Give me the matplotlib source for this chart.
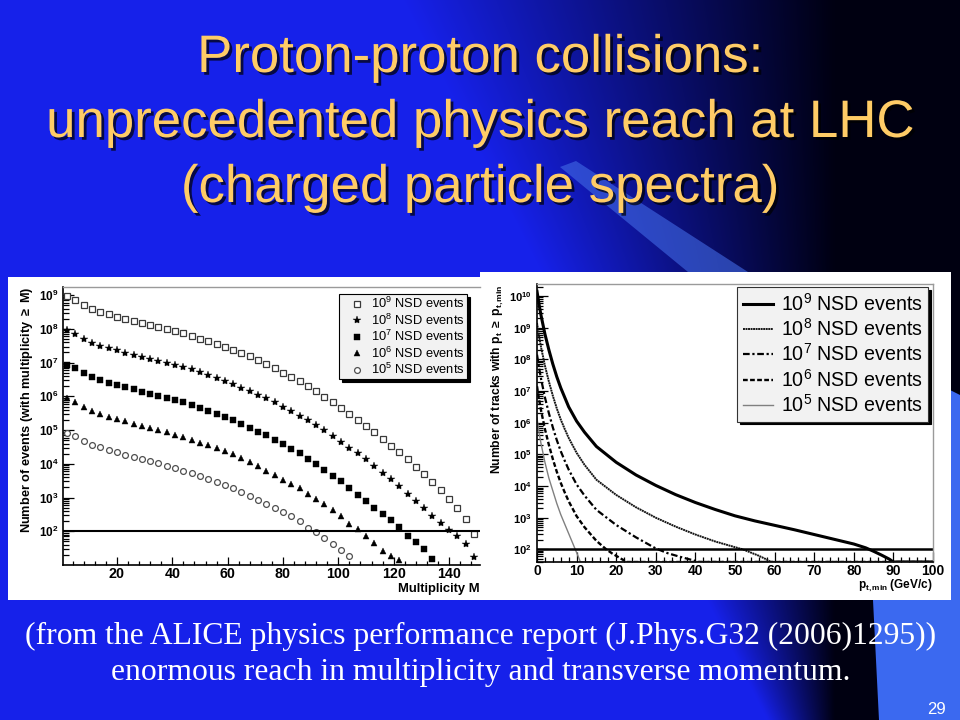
import numpy as np
import matplotlib
matplotlib.use('Agg')
import matplotlib.pyplot as plt
import matplotlib.patheffects as pe
from matplotlib.patches import Rectangle, Polygon
from matplotlib.ticker import MultipleLocator, LogLocator, NullFormatter

plt.rcParams['font.family'] = ['Liberation Sans', 'DejaVu Sans']
plt.rcParams['mathtext.fontset'] = 'custom'
plt.rcParams['mathtext.rm'] = 'Liberation Sans'
plt.rcParams['mathtext.it'] = 'Liberation Sans:italic'
plt.rcParams['mathtext.bf'] = 'Liberation Sans:bold'

W, H = 960, 720

# ---- left plot: number of events with multiplicity >= M (log10 values) ----
MULT = np.arange(2, 150, 3)   # bin centres of multiplicity M
EV_LABELS = ['$10^{9}$ NSD events', '$10^{8}$ NSD events', '$10^{7}$ NSD events',
             '$10^{6}$ NSD events', '$10^{5}$ NSD events']
lg_ev_1e9 = [8.97, 8.87, 8.72, 8.60, 8.50, 8.43, 8.36, 8.29, 8.23, 8.18,
             8.12, 8.06, 8.00, 7.94, 7.88, 7.79, 7.71, 7.63, 7.54, 7.47,
             7.37, 7.29, 7.19, 7.09, 6.95, 6.84, 6.70, 6.57, 6.45, 6.30,
             6.16, 5.99, 5.83, 5.66, 5.49, 5.31, 5.13, 4.94, 4.74, 4.54,
             4.34, 4.14, 3.92, 3.70, 3.47, 3.23, 2.95, 2.68, 2.37, 1.92]
lg_ev_1e8 = [7.96, 7.86, 7.71, 7.59, 7.50, 7.43, 7.37, 7.30, 7.24, 7.17,
             7.11, 7.05, 6.99, 6.92, 6.86, 6.80, 6.72, 6.63, 6.54, 6.46,
             6.36, 6.26, 6.16, 6.05, 5.94, 5.82, 5.68, 5.56, 5.43, 5.29,
             5.14, 4.99, 4.82, 4.65, 4.48, 4.31, 4.13, 3.94, 3.74, 3.54,
             3.34, 3.11, 2.91, 2.69, 2.46, 2.25, 2.04, 1.87, 1.62, 1.25]
lg_ev_1e7 = [6.94, 6.84, 6.70, 6.57, 6.48, 6.41, 6.34, 6.27, 6.21, 6.14,
             6.08, 6.02, 5.96, 5.89, 5.82, 5.75, 5.66, 5.57, 5.49, 5.39,
             5.29, 5.18, 5.07, 4.95, 4.84, 4.71, 4.58, 4.45, 4.31, 4.15,
             4.00, 3.82, 3.64, 3.48, 3.29, 3.09, 2.89, 2.70, 2.51, 2.33,
             2.14, 1.87, 1.67, 1.48, 1.18]
lg_ev_1e6 = [5.95, 5.83, 5.68, 5.57, 5.48, 5.40, 5.33, 5.26, 5.19, 5.13,
             5.07, 5.00, 4.93, 4.86, 4.79, 4.71, 4.63, 4.55, 4.47, 4.38,
             4.28, 4.17, 4.05, 3.93, 3.80, 3.68, 3.53, 3.41, 3.28, 3.11,
             2.95, 2.81, 2.63, 2.44, 2.22, 2.07, 1.85, 1.64, 1.41, 1.26,
             1.16]
lg_ev_1e5 = [4.92, 4.82, 4.69, 4.57, 4.49, 4.41, 4.34, 4.27, 4.21, 4.14,
             4.08, 4.01, 3.94, 3.87, 3.80, 3.72, 3.63, 3.55, 3.47, 3.38,
             3.28, 3.17, 3.06, 2.94, 2.81, 2.69, 2.56, 2.44, 2.31, 2.11,
             1.97, 1.79, 1.62, 1.43, 1.27]

# ---- right plot: number of tracks with pt >= pt,min (log10 values) ----
EMPTY = -np.inf   # empty bins, drawn on the bottom of the frame
pt_1e9 = [0, 0.5, 1, 1.5, 2, 3, 4, 5, 6, 7, 8, 10, 12, 15, 20, 25, 30, 35, 40,
          45, 50, 55, 60, 65, 70, 75, 80, 83, 85, 87, 89, 90, 100]
lg_tr_1e9 = [10.15, 9.75, 9.4, 9.1, 8.8, 8.3, 7.85, 7.45, 7.1, 6.8, 6.5, 6.05,
             5.7, 5.25, 4.75, 4.35, 4.02, 3.73, 3.48, 3.26, 3.06, 2.9, 2.76,
             2.62, 2.47, 2.32, 2.17, 2.05, 1.94, 1.82, 1.69, EMPTY, EMPTY]
pt_1e8 = [0, 0.5, 1, 1.5, 2, 3, 4, 5, 6, 7, 8, 10, 12, 15, 20, 25, 30, 35, 40,
          45, 50, 52, 54, 56, 58, 59, 100]
lg_tr_1e8 = [9.15, 8.75, 8.4, 8.1, 7.8, 7.3, 6.85, 6.45, 6.1, 5.8, 5.52, 5.05,
             4.67, 4.2, 3.72, 3.33, 3.0, 2.72, 2.47, 2.25, 2.07, 2.0, 1.9, 1.8,
             1.68, EMPTY, EMPTY]
pt_1e7 = [0, 0.5, 1, 1.5, 2, 3, 4, 5, 6, 7, 8, 10, 12, 15, 20, 25, 30, 33, 36,
          39, 40.5, 41, 100]
lg_tr_1e7 = [8.15, 7.75, 7.4, 7.1, 6.8, 6.3, 5.85, 5.45, 5.1, 4.8, 4.52, 4.05,
             3.7, 3.25, 2.77, 2.38, 2.03, 1.88, 1.77, 1.67, 1.62, EMPTY, EMPTY]
pt_1e6 = [0, 0.5, 1, 1.5, 2, 3, 4, 5, 6, 7, 8, 10, 12, 15, 17.5, 19, 20.5, 22,
          22.5, 100]
lg_tr_1e6 = [7.15, 6.75, 6.4, 6.1, 5.8, 5.3, 4.85, 4.45, 4.1, 3.8, 3.52, 3.05,
             2.7, 2.27, 2.0, 1.87, 1.76, 1.65, EMPTY, EMPTY]
pt_1e5 = [0, 0.5, 1, 1.5, 2, 3, 4, 5, 6, 7, 8, 9, 9.5, 10, 10.5, 10.9, 11.2, 100]
lg_tr_1e5 = [6.15, 5.7, 5.35, 5.05, 4.75, 4.25, 3.85, 3.45, 3.1, 2.8, 2.5, 2.2,
             2.05, 1.9, 1.75, 1.62, EMPTY, EMPTY]

TITLE = ['Proton-proton collisions:',
         'unprecedented physics reach at LHC',
         '(charged particle spectra)']
FOOTER = ['(from the ALICE physics performance report (J.Phys.G32 (2006)1295))',
          'enormous reach in multiplicity and transverse momentum.']


fig = plt.figure(figsize=(W / 100, H / 100), dpi=100)


def px_axes(l, t, r, b, **kw):
    return fig.add_axes([l / W, 1 - b / H, (r - l) / W, (b - t) / H], **kw)


# slide background
bg = px_axes(0, 0, W, H)
yy, xx = np.mgrid[0:1:360j, 0:1:480j]
x0 = 0.42 + 0.38 * yy
wd = 0.45 - 0.38 * yy
t = np.clip((xx - x0) / wd, 0, 1)[..., None]
blue = np.array([0.09, 0.13, 0.92])
dark = np.array([0.0, 0.0, 0.07])
bg.imshow(blue * (1 - t) + dark * t, extent=[0, W, H, 0], aspect='auto',
          interpolation='bilinear')
beam_top = [(560, 167), (576, 161), (748, 272), (688, 272)]
beam_low = [(900, 365), (960, 395), (960, 720), (879, 720), (873, 600), (860, 540)]
bg.add_patch(Polygon(beam_top, closed=True, fc=(0.26, 0.42, 0.90), ec='none', alpha=0.6))
bg.add_patch(Polygon(beam_low, closed=True, fc=(0.23, 0.41, 0.94), ec='none'))
bg.add_patch(Rectangle((8, 277), 472, 323, fc='white', ec='none'))
bg.add_patch(Rectangle((480, 272), 471, 328, fc='white', ec='none'))
bg.set_xlim(0, W)
bg.set_ylim(H, 0)
bg.axis('off')

shadow = [pe.withSimplePatchShadow(offset=(2, -2), shadow_rgbFace='black', alpha=0.7)]
for line, yb in zip(TITLE, [72, 137, 202]):
    bg.text(480, yb, line, ha='center', va='baseline', fontsize=38,
            color='#FFCC66', path_effects=shadow)
for line, yc in zip(FOOTER, [636, 672]):
    bg.text(481, yc, line, ha='center', va='center', fontsize=22.8,
            color='white', family=['Liberation Serif', 'DejaVu Serif'])
bg.text(936, 709, '29', ha='center', va='center', fontsize=12, color='white')


def root_frame(ax):
    for side in ['top', 'right']:
        ax.spines[side].set_color('#9a9a9a')
        ax.spines[side].set_linewidth(1.0)
    for side in ['left', 'bottom']:
        ax.spines[side].set_color('black')
        ax.spines[side].set_linewidth(1.2)
    ax.tick_params(which='both', direction='in', top=False, right=False, width=0.9)


# ---- left plot ----
ax1 = px_axes(63, 287, 480, 565)
root_frame(ax1)
ax1.spines['right'].set_visible(False)
styles = [dict(marker='s', ms=4.2, mfc='white', mec='#3a3a3a', mew=0.9),
          dict(marker='*', ms=6.0, mfc='black', mec='black', mew=0.3),
          dict(marker='s', ms=4.0, mfc='black', mec='black', mew=0.3),
          dict(marker='^', ms=4.8, mfc='black', mec='black', mew=0.3),
          dict(marker='o', ms=4.2, mfc='white', mec='#505050', mew=0.9)]
for lg, lab, st in zip([lg_ev_1e9, lg_ev_1e8, lg_ev_1e7, lg_ev_1e6, lg_ev_1e5],
                       EV_LABELS, styles):
    ax1.plot(MULT[:len(lg)], 10.0 ** np.array(lg), ls='none', label=lab, **st)
ax1.axhline(100, color='black', lw=1.5)
ax1.set_yscale('log')
ax1.set_xlim(0.5, 151.2)
ax1.set_ylim(10, 1.75e9)
ax1.set_xticks(np.arange(20, 141, 20))
ax1.set_xticklabels([str(v) for v in range(20, 141, 20)], fontweight='bold', fontsize=10.3)
ax1.xaxis.set_minor_locator(MultipleLocator(4))
ax1.set_yticks([10.0 ** k for k in range(2, 10)])
ax1.set_yticklabels([r'$\mathbf{10^{%d}}$' % k for k in range(2, 10)], fontsize=8.5)
ax1.yaxis.set_minor_locator(LogLocator(base=10, subs=np.arange(2, 10)))
ax1.yaxis.set_minor_formatter(NullFormatter())
ax1.tick_params(axis='x', which='major', length=6, pad=1.5)
ax1.tick_params(axis='x', which='minor', length=3)
ax1.tick_params(axis='y', which='major', length=8, pad=3)
ax1.tick_params(axis='y', which='minor', length=4)
ax1.set_ylabel(r'Number of events (with multiplicity $\mathbf{\geq}$ M)', loc='top',
               fontweight='bold', fontsize=9.2, labelpad=3)
ax1.set_xlabel('Multiplicity M', loc='right', fontweight='bold', fontsize=9.4, labelpad=1.5)
leg1 = ax1.legend(loc='upper right', bbox_to_anchor=(0.969, 0.975), fontsize=9.3,
                  fancybox=False, edgecolor='black', facecolor='#f2f2f2', framealpha=1,
                  shadow={'color': 'black', 'alpha': 1}, borderpad=0.15,
                  borderaxespad=0, labelspacing=0.1, handlelength=2.5,
                  handletextpad=-0.15)
leg1.get_frame().set_linewidth(0.8)

# ---- right plot ----
YMIN_R = 40
ax2 = px_axes(537, 284, 933, 562)
root_frame(ax2)
curves = [(pt_1e9, lg_tr_1e9, dict(color='black', lw=2.2, ls='-')),
          (pt_1e8, lg_tr_1e8, dict(color='#151515', lw=1.4, ls=(0, (1, 0.3)))),
          (pt_1e7, lg_tr_1e7, dict(color='black', lw=1.6, ls=(0, (3, 1.2, 1, 1.2)))),
          (pt_1e6, lg_tr_1e6, dict(color='black', lw=1.7, ls=(0, (2, 1)))),
          (pt_1e5, lg_tr_1e5, dict(color='#808080', lw=1.0, ls='-'))]
for (pt, lg, st), lab in zip(curves, EV_LABELS):
    ax2.plot(pt, np.clip(10.0 ** np.array(lg), YMIN_R, None), label=lab, **st)
ax2.axhline(100, color='black', lw=1.8)
ax2.set_yscale('log')
ax2.set_xlim(0, 100)
ax2.set_ylim(YMIN_R, 2.4e10)
ax2.set_xticks(np.arange(0, 101, 10))
ax2.set_xticklabels([str(v) for v in range(0, 101, 10)], fontweight='bold', fontsize=10)
ax2.xaxis.set_minor_locator(MultipleLocator(2))
ax2.set_yticks([10.0 ** k for k in range(2, 11)])
ax2.set_yticklabels([r'$\mathbf{10^{%d}}$' % k for k in range(2, 11)], fontsize=8)
ax2.yaxis.set_minor_locator(LogLocator(base=10, subs=np.arange(2, 10)))
ax2.yaxis.set_minor_formatter(NullFormatter())
ax2.tick_params(axis='x', which='major', length=7, pad=1.2)
ax2.tick_params(axis='x', which='minor', length=3.5)
ax2.tick_params(axis='y', which='major', length=8, pad=4)
ax2.tick_params(axis='y', which='minor', length=4)
ax2.set_ylabel(r'Number of tracks with $\mathbf{p_{t}\ \geq\ p_{t,min}}$', loc='top',
               fontweight='bold', fontsize=8.7, labelpad=2)
ax2.set_xlabel(r'$\mathbf{p_{t,min}}$ (GeV/c)', loc='right', fontweight='bold',
               fontsize=8.5, labelpad=0)
leg2 = ax2.legend(loc='upper right', bbox_to_anchor=(0.988, 0.989), fontsize=14.1,
                  fancybox=False, edgecolor='#333333', facecolor='#f2f2f2', framealpha=1,
                  shadow={'color': 'black', 'alpha': 1}, borderpad=0.3,
                  borderaxespad=0, labelspacing=0.17, handlelength=1.53,
                  handletextpad=0.41)
leg2.get_frame().set_linewidth(0.8)

fig.savefig('out.png', dpi=100)
